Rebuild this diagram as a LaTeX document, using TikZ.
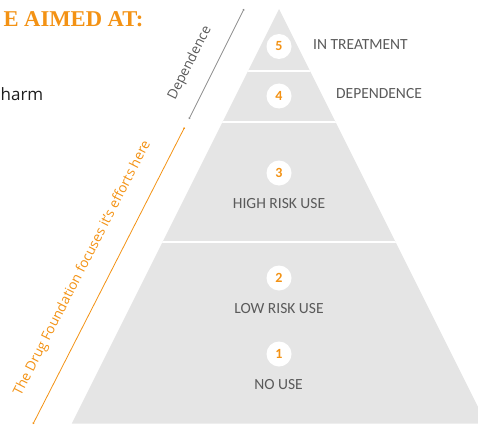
\documentclass[tikz,border=0pt]{standalone}
\usepackage{fontspec}
\usetikzlibrary{arrows.meta}
\newfontfamily\labelfont{Carlito}
\newfontfamily\notefont{Open Sans}
\newfontfamily\headfont{Liberation Serif}
\definecolor{brandorange}{RGB}{243,146,20}
\definecolor{pyrgray}{RGB}{229,229,229}
\definecolor{labelgray}{RGB}{90,90,90}
\definecolor{rulegray}{RGB}{140,140,140}
\definecolor{bodyink}{RGB}{30,30,30}
\tikzset{
  levelnum/.style={circle, fill=white, minimum size=25pt, inner sep=0pt,
    text=brandorange, font=\labelfont\bfseries\fontsize{14}{14}\selectfont},
  levellabel/.style={inner sep=0pt, text=labelgray,
    font=\labelfont\fontsize{15.5}{18}\selectfont},
  sidenote/.style={inner sep=0pt, font=\notefont\fontsize{13.6}{16}\selectfont},
  bracketline/.style={line width=0.8pt, {Circle[length=1.8pt]}-{Circle[length=1.8pt]}},
  divider/.style={white, line width=1.5pt}
}
\begin{document}
\begin{tikzpicture}[x=1pt, y=-1pt]
  \useasboundingbox (0,0) rectangle (478,425);
  \clip (0,0) rectangle (478,425);

  % heading fragment and body text
  \node[anchor=base east, inner sep=0pt, text=brandorange,
        font=\headfont\bfseries\fontsize{22.6}{26}\selectfont] (head) at (143.5,27) {E AIMED AT:};
  \node[anchor=base east, inner sep=0pt, text=bodyink,
        font=\notefont\fontsize{17}{20}\selectfont] (body) at (43.5,100.7) {harm};

  % pyramid
  \coordinate (apex) at (279,9);
  \coordinate (bl) at (71.75,423.5);
  \coordinate (br) at (486.25,423.5);
  \fill[pyrgray] (apex) -- (br) -- (bl) -- cycle;
  \begin{scope}
    \clip (apex) -- (br) -- (bl) -- cycle;
    \draw[divider] (0,71) -- (478,71);
    \draw[divider] (0,122) -- (478,122);
    \draw[divider] (0,242) -- (478,242);
  \end{scope}

  % level markers
  \node[levelnum] (n5) at (279,46.5) {5};
  \node[levelnum] (n4) at (279,96) {4};
  \node[levelnum] (n3) at (279,173) {3};
  \node[levelnum] (n2) at (279,278) {2};
  \node[levelnum] (n1) at (279,354) {1};

  % level names
  \node[levellabel, anchor=base west] (l5) at (313,50) {IN TREATMENT};
  \node[levellabel, anchor=base west] (l4) at (336,98.3) {DEPENDENCE};
  \node[levellabel, anchor=base] (l3) at (279,208.3) {HIGH RISK USE};
  \node[levellabel, anchor=base] (l2) at (279,313.3) {LOW RISK USE};
  \node[levellabel, anchor=base] (l1) at (278.5,389.3) {NO USE};

  % side brackets
  \coordinate (dtop) at (244,9);
  \coordinate (dbot) at (189,119);
  \draw[bracketline, rulegray] (dbot) -- (dtop);
  \node[sidenote, text=labelgray, rotate=63.2] (dep) at (190,63) {Dependence};

  \coordinate (ftop) at (184.5,127.5);
  \coordinate (fbot) at (33,424);
  \draw[bracketline, brandorange] (fbot) -- (ftop);
  \node[sidenote, text=brandorange, rotate=62.9] (focus) at (82.5,268.3)
    {The Drug Foundation focuses it’s efforts here};
\end{tikzpicture}
\end{document}
